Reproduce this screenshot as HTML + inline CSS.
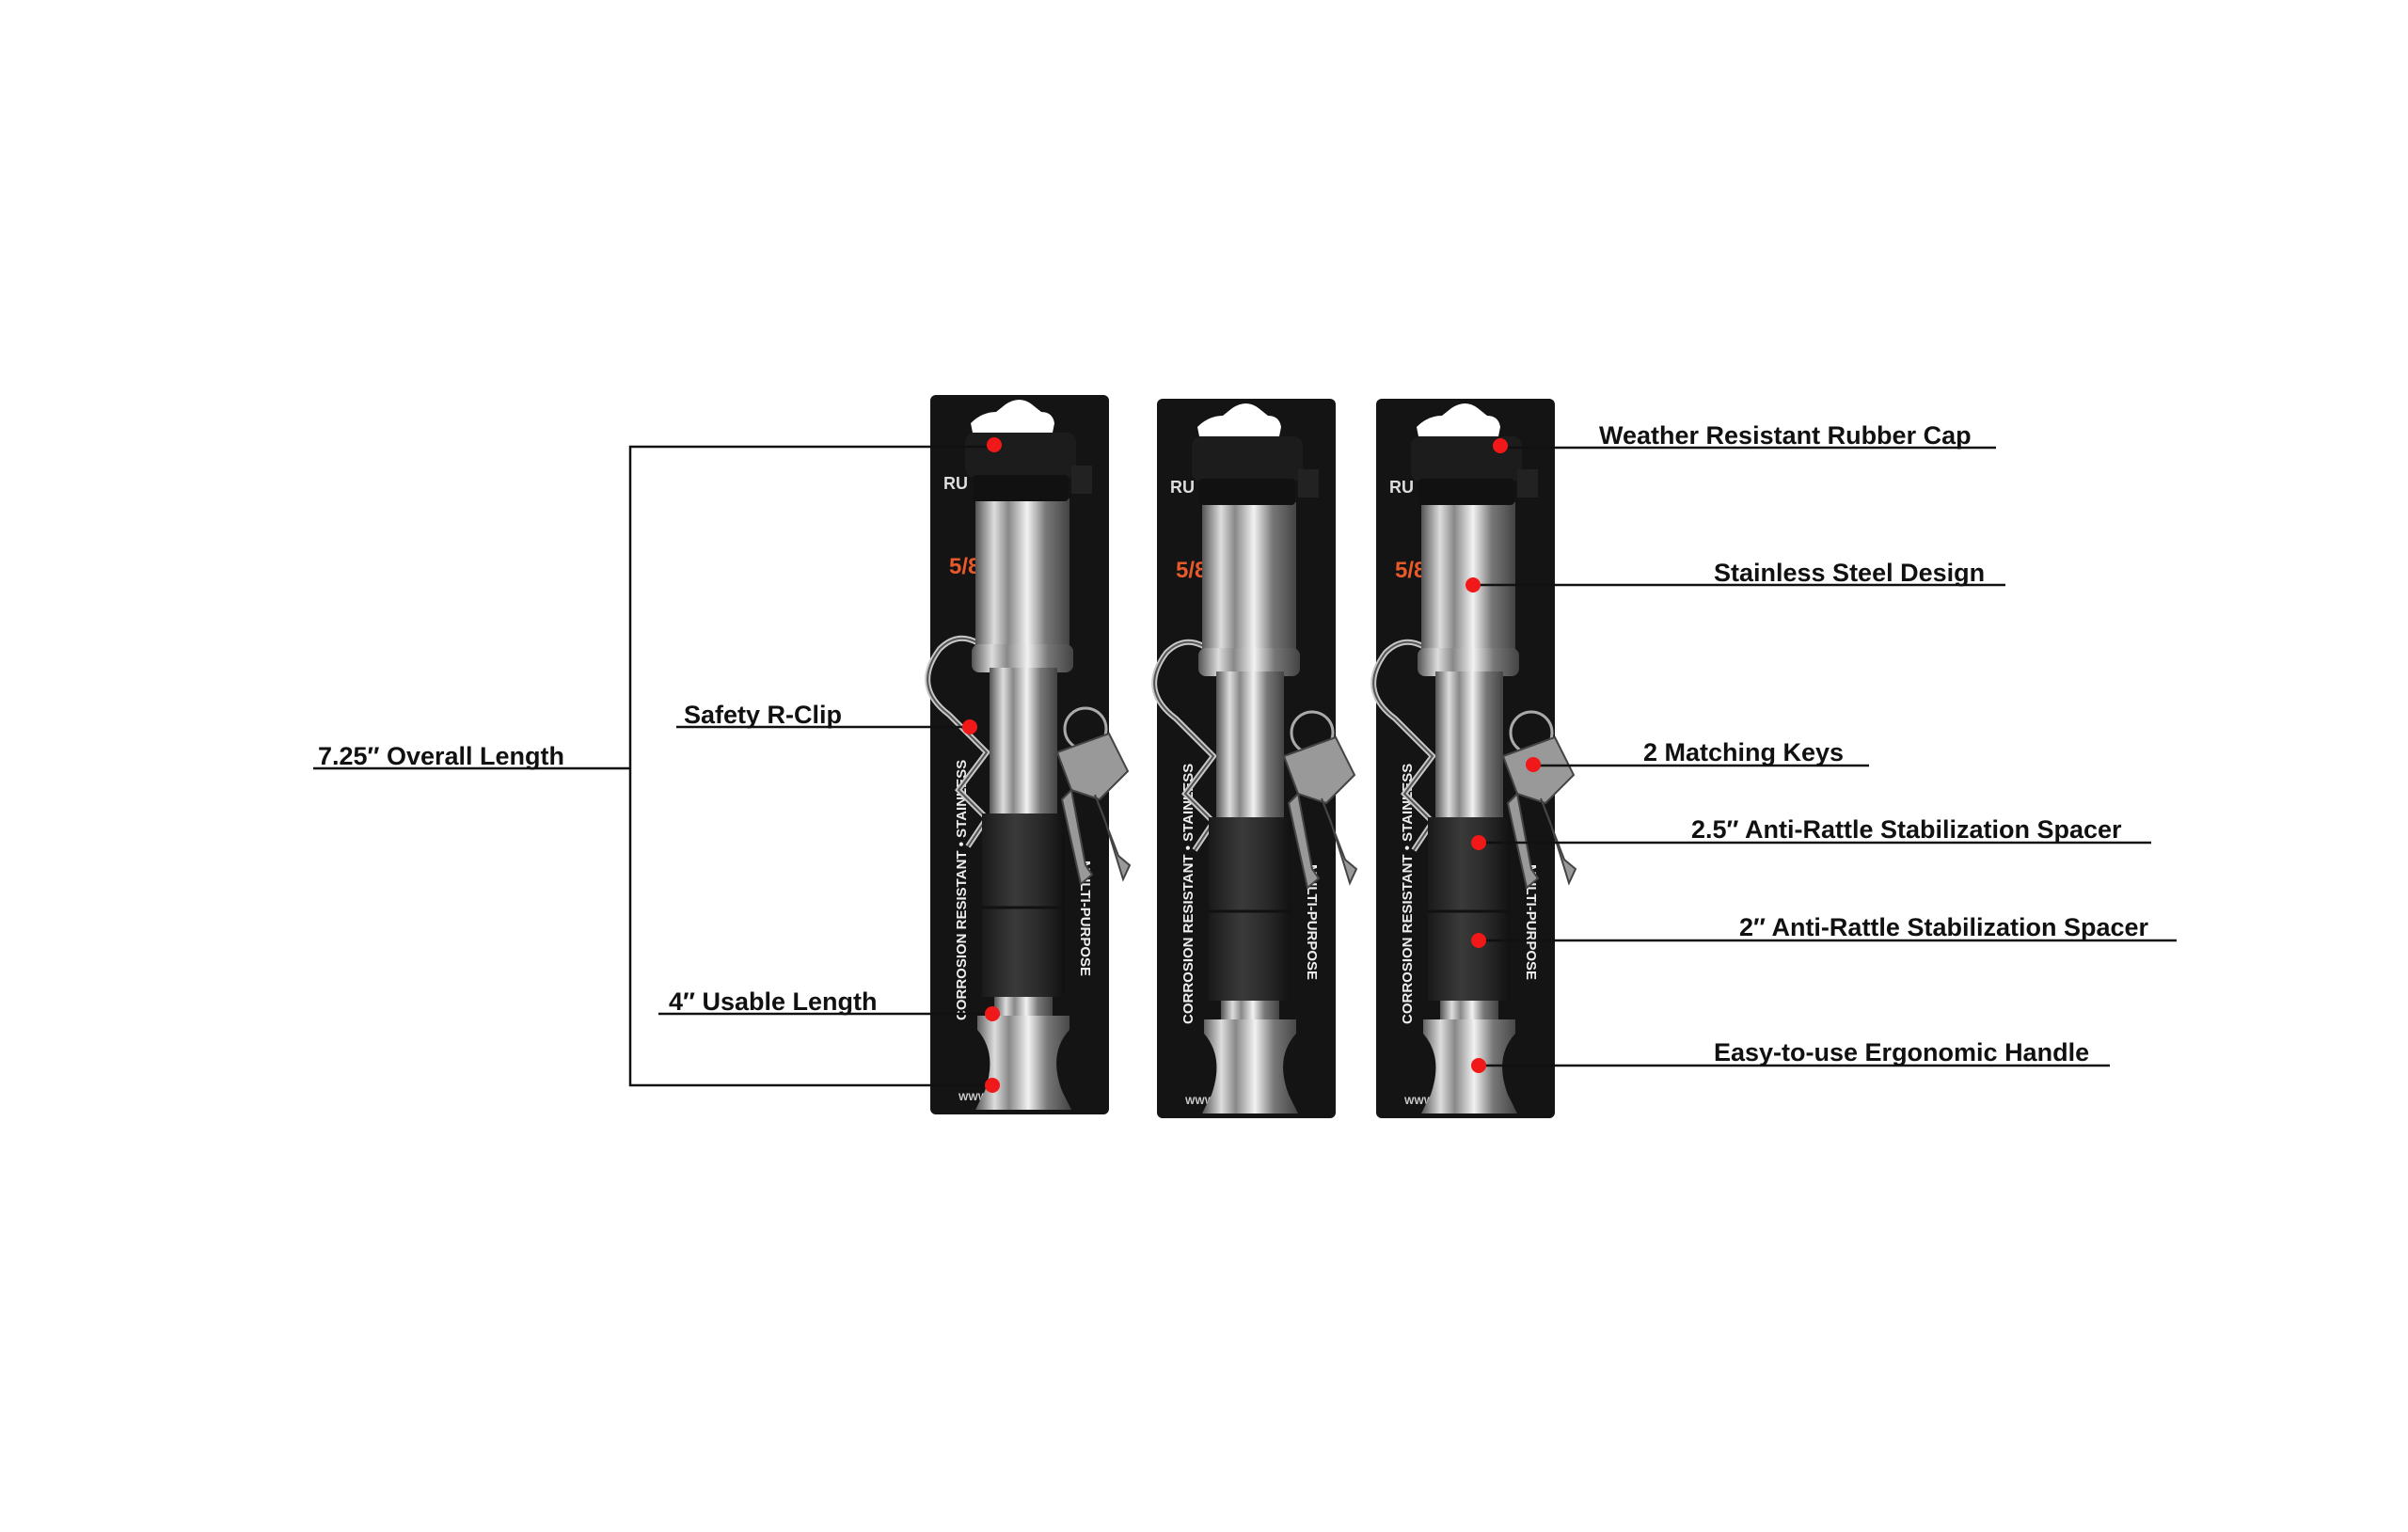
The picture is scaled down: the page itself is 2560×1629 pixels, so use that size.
<!DOCTYPE html>
<html><head><meta charset="utf-8"><style>
html,body{margin:0;padding:0;background:#fff;}
svg{display:block;}
text{font-family:"Liberation Sans",sans-serif;font-weight:bold;font-size:27px;fill:#111;}
</style></head><body>
<svg width="2560" height="1629" viewBox="0 0 2560 1629" xmlns="http://www.w3.org/2000/svg">
<defs>
<linearGradient id="steel" x1="0" x2="1" y1="0" y2="0">
<stop offset="0" stop-color="#555"/><stop offset="0.2" stop-color="#ddd"/><stop offset="0.35" stop-color="#888"/><stop offset="0.55" stop-color="#f2f2f2"/><stop offset="0.75" stop-color="#777"/><stop offset="1" stop-color="#444"/>
</linearGradient>
<linearGradient id="blk" x1="0" x2="1" y1="0" y2="0">
<stop offset="0" stop-color="#1a1a1a"/><stop offset="0.4" stop-color="#3a3a3a"/><stop offset="0.7" stop-color="#2a2a2a"/><stop offset="1" stop-color="#111"/>
</linearGradient>
<g id="prod">
<rect x="0" y="0" width="190" height="765" rx="6" fill="#141414"/>
<path d="M43 30 Q55 18 70 18 L80 10 Q95 0 108 10 L118 18 Q130 18 132 30 L130 40 L45 40 Z" fill="#fff"/>
<text x="14" y="100" style="font-size:18px;fill:#ddd">RU</text>
<text x="20" y="190" style="font-size:24px;fill:#e85a2a">5/8</text>
<text transform="translate(38,665) rotate(-90)" style="font-size:15px;fill:#eee">CORROSION RESISTANT • STAINLESS</text>
<text transform="translate(160,495) rotate(90)" style="font-size:15px;fill:#eee">MULTI-PURPOSE</text>
<text x="30" y="750" style="font-size:11px;fill:#ccc">WWW.............COM</text>
<path d="M78 290 Q40 240 10 270 Q-20 310 20 340 L60 380 L30 420 L60 450 L40 480" fill="none" stroke="#c8c8c8" stroke-width="6"/>
<path d="M78 290 Q40 240 10 270 Q-20 310 20 340 L60 380 L30 420 L60 450 L40 480" fill="none" stroke="#555" stroke-width="2"/>
<rect x="48" y="110" width="100" height="170" fill="url(#steel)"/>
<rect x="44" y="265" width="108" height="30" rx="8" fill="url(#steel)"/>
<rect x="63" y="290" width="72" height="160" fill="url(#steel)"/>
<rect x="55" y="445" width="88" height="195" fill="url(#blk)"/>
<line x1="55" y1="545" x2="143" y2="545" stroke="#111" stroke-width="3"/>
<rect x="68" y="640" width="62" height="20" fill="url(#steel)"/>
<path d="M50 660 L148 660 L148 675 Q125 700 140 740 L150 760 L48 760 L58 740 Q72 700 50 675 Z" fill="url(#steel)"/>
<rect x="37" y="40" width="118" height="48" rx="10" fill="#1c1c1c"/>
<rect x="45" y="85" width="102" height="28" rx="4" fill="#111"/>
<rect x="150" y="75" width="22" height="30" fill="#222"/>
<circle cx="165" cy="355" r="22" fill="none" stroke="#aaa" stroke-width="3"/>
<g fill="#999" stroke="#444" stroke-width="2">
<path d="M135 380 L190 360 L210 400 L180 430 L150 420 Z"/>
<path d="M175 425 L200 490 L212 500 L205 515 L185 450 Z"/>
<path d="M150 420 L165 500 L172 510 L160 520 L140 430 Z"/>
</g>
</g>
</defs>
<g transform="translate(0,-3)">
<use href="#prod" x="989" y="423"/>
<use href="#prod" x="1230" y="427"/>
<use href="#prod" x="1463" y="427"/>

<g stroke="#111" stroke-width="2.5" fill="none">
<polyline points="1057,478 670,478 670,1157 1055,1157"/>
<line x1="333" y1="820" x2="670" y2="820"/>
<line x1="719" y1="776" x2="1031" y2="776"/>
<line x1="700" y1="1081" x2="1055" y2="1081"/>
<line x1="1595" y1="479" x2="2122" y2="479"/>
<line x1="1566" y1="625" x2="2132" y2="625"/>
<line x1="1630" y1="817" x2="1987" y2="817"/>
<line x1="1572" y1="899" x2="2287" y2="899"/>
<line x1="1572" y1="1003" x2="2314" y2="1003"/>
<line x1="1572" y1="1136" x2="2243" y2="1136"/>
</g>
<g fill="#f01818">
<circle cx="1057" cy="476" r="8"/>
<circle cx="1031" cy="776" r="8"/>
<circle cx="1055" cy="1081" r="8"/>
<circle cx="1055" cy="1157" r="8"/>
<circle cx="1595" cy="477" r="8"/>
<circle cx="1566" cy="625" r="8"/>
<circle cx="1630" cy="816" r="8"/>
<circle cx="1572" cy="899" r="8"/>
<circle cx="1572" cy="1003" r="8"/>
<circle cx="1572" cy="1136" r="8"/>
</g>

<text x="338" y="816">7.25″ Overall Length</text>
<text x="727" y="772">Safety R-Clip</text>
<text x="711" y="1077">4″ Usable Length</text>
<text x="1700" y="475">Weather Resistant Rubber Cap</text>
<text x="1822" y="621">Stainless Steel Design</text>
<text x="1747" y="812">2 Matching Keys</text>
<text x="1798" y="894">2.5″ Anti-Rattle Stabilization Spacer</text>
<text x="1849" y="998">2″ Anti-Rattle Stabilization Spacer</text>
<text x="1822" y="1131">Easy-to-use Ergonomic Handle</text>
</g>
</svg>
</body></html>
